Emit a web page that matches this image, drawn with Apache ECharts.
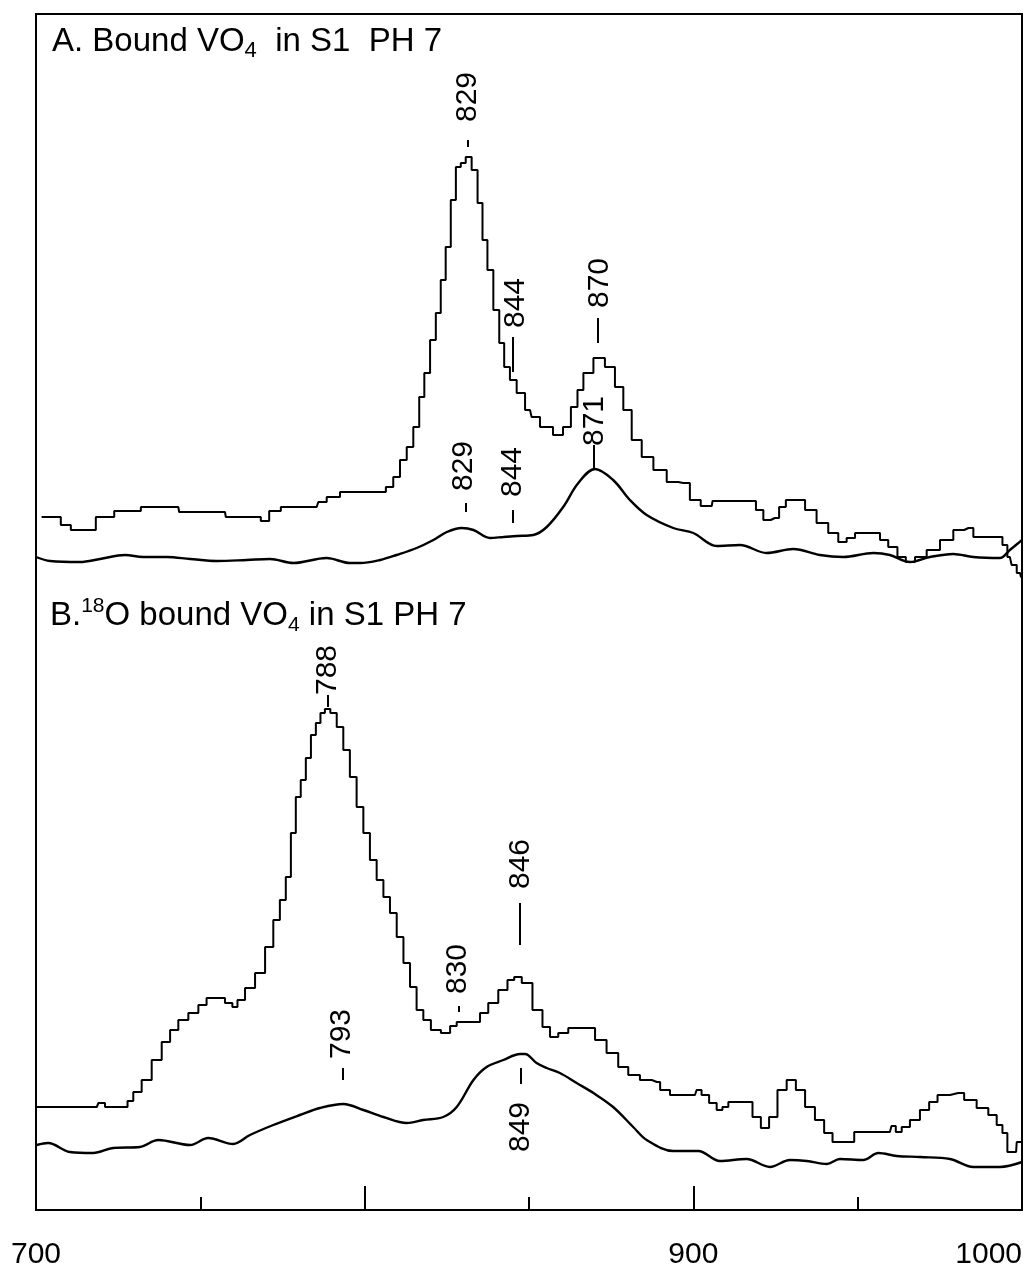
<!DOCTYPE html>
<html>
<head>
<meta charset="utf-8">
<title>Bound VO4 in S1, pH 7</title>
<script src="https://cdn.jsdelivr.net/npm/echarts@6/dist/echarts.min.js"></script>
<style>
  html, body { margin: 0; padding: 0; background: #fff; }
  #chart { width: 1032px; height: 1272px; }
</style>
</head>
<body>
<div id="chart"></div>
<script>
// Wavenumber axis (cm-1)
const xMin = 700;
const xMax = 1000;
const tickLabels = ['700', '', '900', '1000'];

// Panel A: bound VO4 in S1, pH 7 (upper: difference trace, lower: reference trace), offset intensities
const seriesA_upper = [
  [701.7,69.3],[706.3,69.3],[708.8,68.5],[712.4,68.0],[716.4,68.0],[720.0,69.3],[727.6,69.9],
  [736.2,70.3],[743.3,70.3],[743.8,69.8],[757.5,69.8],[758.0,69.3],[767.6,69.3],[769.2,68.9],
  [772.7,69.9],[776.3,70.3],[785.4,70.3],[786.4,70.8],[790.5,71.3],[794.5,71.8],[805.2,71.8],
  [807.7,72.3],[809.7,73.3],[811.8,75.0],[813.8,76.3],[815.8,78.3],[817.4,81.3],[818.9,83.7],
  [820.9,87.0],[822.4,89.7],[823.9,93.0],[825.4,96.3],[827.0,101.0],[828.5,104.3],[830.0,104.7],
  [831.5,105.3],[833.6,104.0],[835.1,100.7],[836.6,97.0],[838.1,94.0],[840.2,90.0],[841.7,86.7],
  [843.2,84.3],[845.2,83.0],[847.3,81.7],[850.3,80.0],[851.3,79.3],[855.4,78.3],[859.2,77.5],
  [861.5,78.3],[864.0,80.3],[865.5,82.0],[867.6,83.7],[871.6,85.2],[874.6,84.3],[877.7,82.3],
  [879.7,80.0],[882.8,77.0],[885.8,75.3],[889.9,74.0],[893.9,72.8],[896.9,72.7],[901.0,71.0],
  [903.5,70.4],[905.6,70.4],[906.1,70.9],[917.8,70.9],[920.3,70.0],[922.3,69.0],[924.8,69.2],
  [927.4,70.3],[928.9,71.0],[932.5,71.0],[935.5,70.0],[939.5,68.7],[942.6,67.7],[945.6,66.8],
  [947.7,67.2],[950.7,67.7],[955.8,67.7],[957.8,67.0],[960.8,66.3],[963.4,65.3],[965.9,64.8],
  [969.0,65.3],[973.0,66.0],[977.1,67.0],[981.1,68.0],[983.7,68.2],[986.7,67.3],[993.3,67.3],
  [994.8,66.5],[996.3,65.3],[997.4,64.5],[999.4,63.7],[1000,63.3]
];
const seriesA_lower = [
  [700,65.3],[704.3,64.9],[713.4,64.8],[719.5,65.1],[727.1,65.5],[732.6,65.3],[739.8,65.3],
  [746.9,65.1],[755.0,64.9],[764.1,65.0],[771.2,65.1],[778.3,64.7],[788.4,65.2],[795.5,64.7],
  [798.6,64.7],[804.7,65.0],[809.7,65.5],[815.8,66.2],[820.9,67.0],[825.0,67.8],[829.5,68.2],
  [833.1,68.0],[838.1,67.2],[842.2,67.3],[846.3,67.4],[851.3,67.5],[855.4,68.3],[860.4,70.3],
  [865.0,72.7],[870.1,74.1],[875.6,73.0],[880.7,71.0],[885.8,69.5],[893.9,68.2],[900.0,67.7],
  [907.1,66.4],[914.2,66.5],[922.3,65.7],[930.4,66.1],[938.5,65.5],[945.6,65.3],[954.8,65.7],
  [959.8,65.5],[965.9,64.8],[972.0,65.3],[979.1,65.6],[985.2,65.3],[993.3,65.2],[996.3,66.0],
  [998.9,66.7],[1000,67.0]
];

// Panel B: 18O bound VO4 in S1, pH 7
const seriesB_upper = [
  [700.2,10.3],[718.5,10.3],[719.5,10.7],[720.7,10.7],[721.3,10.3],[727.1,10.3],[728.6,10.9],
  [730.6,11.8],[733.7,13.0],[736.7,15.0],[739.8,16.8],[741.8,18.0],[744.8,19.0],[747.9,19.7],
  [750.9,20.5],[752.9,21.2],[756.0,21.2],[759.0,20.7],[760.5,20.3],[762.1,21.0],[765.1,22.2],
  [768.2,23.7],[771.2,26.3],[773.2,29.0],[775.2,31.0],[776.8,33.3],[778.3,37.7],[779.8,41.3],
  [781.3,43.0],[782.9,45.2],[784.4,47.5],[785.9,48.7],[787.2,49.7],[788.6,50.1],[790.5,49.7],
  [792.5,48.3],[794.5,46.0],[796.5,43.3],[798.6,40.3],[800.6,37.7],[802.6,35.0],[804.7,33.0],
  [806.7,31.3],[808.7,29.7],[810.8,27.3],[812.8,24.7],[814.8,22.3],[816.8,20.0],[818.9,19.0],
  [821.4,18.0],[825.0,17.7],[827.0,18.4],[829.0,18.8],[834.1,18.8],[836.1,19.7],[839.1,20.7],
  [842.2,22.0],[844.7,23.0],[846.3,23.3],[849.3,22.7],[852.8,20.0],[855.4,18.3],[857.4,17.3],
  [860.4,17.7],[863.5,18.2],[868.6,18.2],[871.6,17.0],[875.6,15.7],[878.7,14.3],[881.7,13.5],
  [885.8,13.0],[888.9,12.8],[890.9,12.0],[894.9,11.5],[900.5,11.5],[901.5,12.0],[903.5,11.5],
  [906.1,10.7],[908.1,10.0],[909.6,10.3],[911.7,10.8],[916.7,10.8],[919.3,9.3],[921.8,8.2],
  [924.3,9.3],[926.9,12.0],[929.9,13.0],[932.5,12.0],[935.5,10.3],[938.5,9.0],[941.1,7.7],
  [943.6,6.8],[947.7,6.8],[950.2,7.8],[959.8,7.8],[960.8,8.4],[962.4,7.8],[964.4,8.3],
  [967.4,9.0],[970.5,10.0],[973.0,10.8],[975.6,11.5],[980.6,11.7],[984.2,11.0],[988.2,10.2],
  [991.3,9.5],[993.3,8.5],[994.8,7.7],[996.3,5.8],[998.2,5.8],[998.6,6.8],[1000,6.8]
];
const seriesB_lower = [
  [700.2,6.5],[703.7,6.7],[710.3,5.8],[717.4,5.7],[723.5,6.2],[731.6,6.3],[737.2,7.0],
  [746.9,6.5],[752.4,7.2],[760.0,6.6],[765.1,7.5],[772.2,8.5],[780.3,9.5],[786.4,10.2],
  [793.5,10.6],[799.6,10.0],[805.7,9.3],[812.8,8.7],[817.8,9.0],[823.9,9.3],[828.0,10.3],
  [833.1,13.0],[837.1,14.3],[842.2,15.0],[847.3,15.6],[848.8,15.6],[852.3,14.7],[855.4,14.2],
  [859.4,13.7],[864.5,12.7],[869.6,11.7],[875.6,10.3],[881.7,8.3],[885.8,7.0],[893.9,5.9],
  [901.5,5.9],[908.1,4.9],[916.2,5.1],[923.3,4.3],[929.4,5.0],[934.5,4.9],[940.6,4.6],
  [944.6,5.1],[951.7,5.0],[956.3,5.7],[961.9,5.4],[969.0,5.3],[978.1,5.1],[985.2,4.3],
  [993.3,4.3],[1000,4.8]
];

// Band assignments (cm-1) written beside the peaks
const bandNames = ['829', '844', '870', '871', '829', '844', '788', '846', '830', '793', '849'];
// where each band name sits: [wavenumber, intensity] of the text centre
const bandTextAt = [
  [831.5,111.3],[846.0,90.7],[871.6,92.7],[869.9,78.9],[830.2,74.4],[845.0,73.8],
  [788.8,54.0],[847.6,34.6],[828.4,24.1],[793.1,17.6],[847.6,8.3]
];
// leader ticks: [wavenumber, from, to]
const bandLeaders = [
  [831.5,107.0,106.3],[845.1,87.3,83.8],[871.0,89.2,86.7],[869.8,76.5,74.1],
  [830.8,70.7,69.8],[845.1,70.0,68.7],[788.8,51.5,50.3],[847.3,30.7,26.5],
  [828.7,20.4,19.8],[793.4,14.2,13.0],[847.6,14.2,12.6]
];

const INK = '#000';
const FONT = '"Liberation Sans", Arial, Helvetica, sans-serif';

const chart = echarts.init(document.getElementById('chart'), null, { renderer: 'canvas' });

function trace(data, stepped, width) {
  return {
    type: 'line',
    data: data,
    showSymbol: false,
    symbol: 'none',
    step: stepped ? 'middle' : false,
    smooth: stepped ? false : 0.35,
    silent: true,
    clip: false,
    lineStyle: { color: INK, width: width }
  };
}

const option = {
  animation: false,
  backgroundColor: '#fff',
  grid: {
    left: 36, right: 10, top: 14, bottom: 62,
    show: true, borderColor: INK, borderWidth: 2, backgroundColor: 'transparent'
  },
  xAxis: {
    type: 'value',
    min: xMin, max: xMax, interval: 100,
    axisLine: { show: true, lineStyle: { color: INK, width: 2 } },
    axisTick: { show: true, inside: true, length: 24, lineStyle: { color: INK, width: 2 } },
    minorTick: { show: true, splitNumber: 2, length: 13, lineStyle: { color: INK, width: 2 } },
    splitLine: { show: false },
    axisLabel: {
      show: true, margin: 30, color: INK, fontSize: 30, fontFamily: FONT,
      alignMaxLabel: 'right',
      formatter: function (v) { return tickLabels[Math.round((v - xMin) / 100)] || ''; }
    }
  },
  yAxis: {
    type: 'value', min: 0, max: 119.6, show: false,
    splitLine: { show: false }
  },
  series: [
    trace(seriesA_upper, true, 2),
    trace(seriesA_lower, false, 2.4),
    trace(seriesB_upper, true, 2),
    trace(seriesB_lower, false, 2.4),
    {
      type: 'scatter',
      silent: true,
      symbol: 'circle',
      symbolSize: 0,
      itemStyle: { color: INK, opacity: 1 },
      data: bandNames.map((name, i) => ({ name: name, value: bandTextAt[i] })),
      label: {
        show: true, position: 'inside', rotate: 90, formatter: '{b}',
        color: INK, opacity: 1, textBorderWidth: 0, fontSize: 30, fontFamily: FONT
      },
      markLine: {
        silent: true, symbol: ['none', 'none'], animation: false,
        label: { show: false },
        lineStyle: { color: INK, width: 2, type: 'solid', opacity: 1 },
        data: bandLeaders.map(l => [{ coord: [l[0], l[1]] }, { coord: [l[0], l[2]] }])
      }
    }
  ],
  graphic: [
    {
      type: 'text', left: 52, top: 25,
      style: {
        text: '{t|A. Bound VO}{s|4}{t|  in S1  PH 7}',
        fill: INK,
        rich: {
          t: { fontSize: 33, fontFamily: FONT, lineHeight: 40, fill: INK },
          s: { fontSize: 22, fontFamily: FONT, lineHeight: 14, verticalAlign: 'bottom', fill: INK }
        }
      }
    },
    {
      type: 'text', left: 50, top: 596,
      style: {
        text: '{t|B.}{p|18}{t|O bound VO}{s|4}{t| in S1 PH 7}',
        fill: INK,
        rich: {
          t: { fontSize: 33, fontFamily: FONT, lineHeight: 40, fill: INK },
          p: { fontSize: 21, fontFamily: FONT, lineHeight: 32, verticalAlign: 'top', fill: INK },
          s: { fontSize: 21, fontFamily: FONT, lineHeight: 32, verticalAlign: 'bottom', fill: INK }
        }
      }
    }
  ]
};

chart.setOption(option);
</script>
</body>
</html>
